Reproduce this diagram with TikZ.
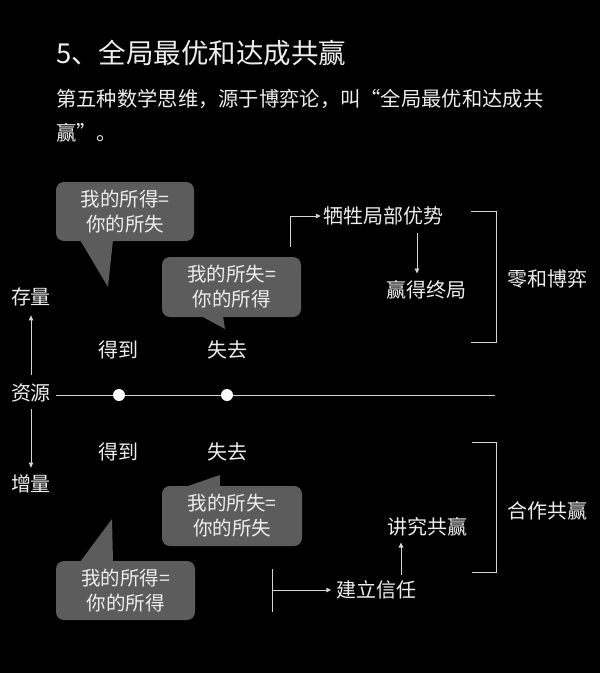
\documentclass[tikz,border=0pt]{standalone}
\usepackage{fontspec}
\setmainfont{Noto Sans CJK SC}
\usetikzlibrary{arrows.meta,calc}
\definecolor{txt}{HTML}{EEEEEE}
\definecolor{ln}{HTML}{D6D6D6}
\definecolor{bub}{HTML}{5C5C5C}
\tikzset{
  lbl/.style={text=txt,font=\fontsize{20}{25}\selectfont,inner sep=2pt},
  bubtext/.style={text=txt,font=\fontsize{19.5}{25}\selectfont,align=center,
    fill=bub,rounded corners=8pt,inner sep=0pt},
  tail/.style={fill=bub},
  conn/.style={draw=ln,line width=0.9pt},
  arr/.style={conn,-{Triangle[length=5pt,width=4.5pt]}},
  dot/.style={circle,fill=white,inner sep=0pt,minimum size=12pt}
}
\begin{document}
\begin{tikzpicture}[x=1pt,y=-1pt]
\fill[black] (0,0) rectangle (600,673);
\useasboundingbox (0,0) rectangle (600,673);
% title
\node[anchor=west,text=txt,font=\fontsize{27.5}{30}\selectfont,inner sep=0pt] (title) at (56,53) {5、全局最优和达成共赢};
\node[anchor=west,text=txt,font=\fontsize{20.3}{25}\selectfont,inner sep=0pt] (sub1) at (56,99) {第五种数学思维，源于博弈论，叫“全局最优和达成共};
\node[anchor=west,text=txt,font=\fontsize{20.3}{25}\selectfont,inner sep=0pt] (sub2) at (56,133) {赢”。};
% axis
\node[lbl] (zy) at (31,393) {资源};
\node[lbl] (cl) at (31,297) {存量};
\node[lbl] (zl) at (31,484) {增量};
\draw[arr,shorten <=7pt,shorten >=7pt] (zy.north) -- (cl.south);
\draw[arr,shorten <=5pt,shorten >=5pt] (zy.south) -- (zl.north);
\coordinate (lineend) at (495,395);
\draw[conn] ([xshift=3pt]zy.east |- lineend) -- (lineend);
\node[dot] (d1) at (119,395) {};
\node[dot] (d2) at (227,395) {};
\node[lbl] (dd1) at (118,350) {得到};
\node[lbl] (sq1) at (227,350) {失去};
\node[lbl] (dd2) at (118,452) {得到};
\node[lbl] (sq2) at (227,452) {失去};
% bubbles
\node[bubtext,minimum width=138pt,minimum height=59pt] (b1) at (125,211.5) {我的所得=\\你的所失};
\fill[tail] (80,240) -- (108,287) -- (113,240) -- cycle;
\node[bubtext,minimum width=139pt,minimum height=60pt] (b2) at (231.5,287) {我的所失=\\你的所得};
\fill[tail] (201,316) -- (225,329) -- (223,316) -- cycle;
\node[bubtext,minimum width=140pt,minimum height=60pt] (b3) at (232,516) {我的所失=\\你的所失};
\fill[tail] (185,487) -- (220,475) -- (220,487) -- cycle;
\node[bubtext,minimum width=139pt,minimum height=59pt] (b4) at (125.5,590.5) {我的所得=\\你的所得};
\fill[tail] (80,562) -- (112,519) -- (113,562) -- cycle;
% top right
\node[lbl] (xs) at (383,216) {牺牲局部优势};
\node[lbl] (yd) at (426,290) {赢得终局};
\coordinate (xsstart) at ($(b2.north east)+(-11,-10)$);
\draw[arr] (xsstart) |- (xs.west);
\draw[arr,shorten <=6pt,shorten >=5pt] ([xshift=34pt]xs.south) -- ([xshift=34pt]xs.south |- yd.north);
\coordinate (br1a) at (471,211);
\coordinate (br1b) at (496,342);
\draw[conn] (br1a) -| (br1b) -- (br1a |- br1b);
\node[lbl] (lh) at (547,279) {零和博弈};
% bottom right
\node[lbl] (jl) at (376.5,590) {建立信任};
\node[lbl] (jj) at (427,527) {讲究共赢};
\coordinate (bart) at (272,569);
\coordinate (barb) at (272,612);
\draw[conn] (bart) -- (barb);
\draw[arr,shorten >=3pt] (bart |- jl.west) -- (jl.west);
\draw[arr,shorten <=4pt,shorten >=4pt] (jl.north -| 401,0) -- (jj.south -| 401,0);
\coordinate (br2a) at (472,442);
\coordinate (br2b) at (496,572);
\draw[conn] (br2a) -| (br2b) -- (br2a |- br2b);
\node[lbl] (hz) at (547.5,511) {合作共赢};
\end{tikzpicture}
\end{document}
